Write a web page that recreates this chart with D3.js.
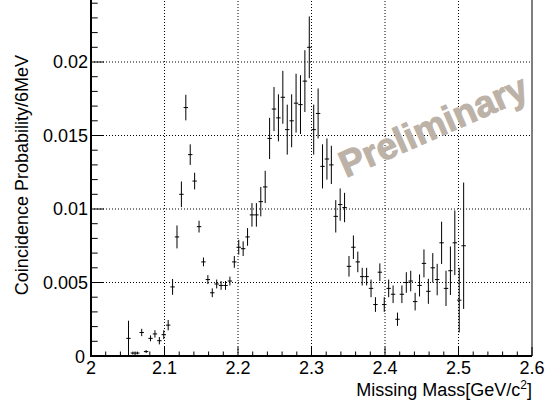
<!DOCTYPE html>
<html>
<head>
<meta charset="utf-8">
<script src="https://cdn.jsdelivr.net/npm/d3@7"></script>
<style>
  body { margin: 0; background: #fff; }
  svg text { font-family: "Liberation Sans", Arial, sans-serif; }
</style>
</head>
<body>
<svg id="chart" width="554" height="407"></svg>
<script>
// Bin centres (GeV/c^2), 6 MeV bins
const mass = [
  2.051, 2.057, 2.063, 2.069, 2.075, 2.081, 2.087, 2.093, 2.099, 2.105,
  2.111, 2.117, 2.123, 2.129, 2.135, 2.141, 2.147, 2.153, 2.159, 2.165,
  2.171, 2.177, 2.183, 2.189, 2.195, 2.201, 2.207, 2.213, 2.219, 2.225,
  2.231, 2.237, 2.243, 2.249, 2.255, 2.261, 2.267, 2.273, 2.279, 2.285,
  2.291, 2.297, 2.303, 2.309, 2.315, 2.321, 2.327, 2.333, 2.339, 2.345,
  2.351, 2.357, 2.363, 2.369, 2.375, 2.381, 2.387, 2.393, 2.399, 2.405,
  2.411, 2.417, 2.423, 2.429, 2.435, 2.441, 2.447, 2.453, 2.459, 2.465,
  2.471, 2.477, 2.483, 2.489, 2.495, 2.501, 2.507
];

// Coincidence probability per bin
const prob = [
  0.0012, 0.0002, 0.0002, 0.0016, 0.0003, 0.0012, 0.0015, 0.00104, 0.00145, 0.0021,
  0.0047, 0.0081, 0.0110, 0.0169, 0.0137, 0.0119, 0.0088, 0.0064, 0.0052, 0.0043,
  0.0049, 0.0048, 0.0048, 0.0051, 0.0064, 0.0074, 0.0073, 0.0081, 0.0096, 0.0096,
  0.0105, 0.0115, 0.0148, 0.0168, 0.0162, 0.0176, 0.0154, 0.0160, 0.0172, 0.0171,
  0.0187, 0.0210, 0.0154, 0.0165, 0.0129, 0.0134, 0.0130, 0.0095, 0.0103, 0.0101,
  0.0061, 0.0074, 0.0064, 0.0054, 0.0054, 0.0046, 0.0035, 0.0057, 0.0035, 0.0046,
  0.0042, 0.0025, 0.0042, 0.0050, 0.0051, 0.0037, 0.0048, 0.0063, 0.0044, 0.0060,
  0.0052, 0.0077, 0.0046, 0.0058, 0.0077, 0.0038, 0.0075
];

// Statistical errors
const err = [
  0.0012, 0.0001, 0.0001, 0.00025, 0.0001, 0.0002, 0.00025, 0.00025, 0.0003, 0.00035,
  0.00054, 0.00078, 0.00087, 0.00087, 0.0007, 0.00057, 0.0004, 0.0003, 0.0003, 0.0003,
  0.0003, 0.0003, 0.0003, 0.0003, 0.0004, 0.0005, 0.0005, 0.0006, 0.0008, 0.0008,
  0.001, 0.0011, 0.0014, 0.0015, 0.0016, 0.0018, 0.0017, 0.0018, 0.002, 0.002,
  0.0021, 0.0021, 0.0017, 0.0017, 0.0015, 0.0014, 0.0013, 0.0011, 0.0011, 0.001,
  0.0007, 0.0008, 0.0007, 0.0006, 0.0006, 0.0006, 0.0005, 0.0006, 0.0005, 0.0006,
  0.0006, 0.00045, 0.0006, 0.0007, 0.0007, 0.0006, 0.00075, 0.00095, 0.00085, 0.001,
  0.00107, 0.00144, 0.0012, 0.00165, 0.0022, 0.0022, 0.0043
];

const binWidth = 0.006;
const xTicks = [2, 2.1, 2.2, 2.3, 2.4, 2.5, 2.6];
const yTicks = [0, 0.005, 0.01, 0.015, 0.02];
const yTickLabels = ["0", "0.005", "0.01", "0.015", "0.02"];

const data = mass.map((m, i) => ({ m, v: prob[i], e: err[i] }));

const svg = d3.select("#chart");
const margin = { left: 91, right: 22, top: 0, bottom: 51 };
const width = 554, height = 407;

// Scales
const x = d3.scaleLinear()
  .domain([2, 2.6])
  .range([margin.left, width - margin.right]);

const y = d3.scaleLinear()
  .domain([0, 0.024218])
  .range([height - margin.bottom, margin.top]);

const x0 = x.range()[0], x1 = x.range()[1];
const y0 = y.range()[0], y1 = y.range()[1];

// Grid (dotted)
svg.append("g")
  .selectAll("line")
  .data(xTicks.slice(1, -1))
  .enter().append("line")
    .attr("x1", d => x(d)).attr("x2", d => x(d))
    .attr("y1", y0).attr("y2", y1)
    .attr("stroke", "#000")
    .attr("stroke-dasharray", "1,2");

svg.append("g")
  .selectAll("line")
  .data(yTicks.slice(1))
  .enter().append("line")
    .attr("x1", x0).attr("x2", x1)
    .attr("y1", d => y(d)).attr("y2", d => y(d))
    .attr("stroke", "#000")
    .attr("stroke-dasharray", "1,2");

// Preliminary watermark
svg.append("text")
  .attr("transform", "translate(346,178) rotate(-23.7)")
  .attr("font-size", 37)
  .attr("font-weight", "bold")
  .attr("fill", "#bdb2a7")
  .attr("stroke", "#bdb2a7")
  .attr("stroke-width", 1)
  .text("Preliminary");

// Error bars
const pts = svg.append("g").attr("stroke", "#000").attr("stroke-width", 1);

pts.selectAll("line.v")
  .data(data)
  .enter().append("line")
    .attr("class", "v")
    .attr("x1", d => x(d.m)).attr("x2", d => x(d.m))
    .attr("y1", d => y(Math.max(0, d.v - d.e)))
    .attr("y2", d => y(d.v + d.e));

pts.selectAll("line.h")
  .data(data)
  .enter().append("line")
    .attr("class", "h")
    .attr("x1", d => x(d.m - binWidth / 2)).attr("x2", d => x(d.m + binWidth / 2))
    .attr("y1", d => y(d.v)).attr("y2", d => y(d.v));

// Minor / major ticks, drawn inside the frame
const xMinor = d3.range(0, 31).map(i => 2 + i * 0.02);
const yMinor = d3.range(0, 25).map(i => i * 0.001);

svg.append("g")
  .selectAll("line")
  .data(xMinor)
  .enter().append("line")
    .attr("x1", d => x(d)).attr("x2", d => x(d))
    .attr("y1", y0)
    .attr("y2", (d, i) => y0 - (i % 5 === 0 ? 9 : 4.5))
    .attr("stroke", "#000");

svg.append("g")
  .selectAll("line")
  .data(yMinor)
  .enter().append("line")
    .attr("x1", x0)
    .attr("x2", (d, i) => x0 + (i % 5 === 0 ? 13 : 6.7))
    .attr("y1", d => y(d)).attr("y2", d => y(d))
    .attr("stroke", "#000");

// Frame: left and bottom axes, right edge
svg.append("line")
  .attr("x1", x0).attr("x2", x0).attr("y1", y1).attr("y2", y0 + 1)
  .attr("stroke", "#000").attr("stroke-width", 2);
svg.append("line")
  .attr("x1", x0 - 1).attr("x2", x1).attr("y1", y0).attr("y2", y0)
  .attr("stroke", "#000").attr("stroke-width", 2);
svg.append("line")
  .attr("x1", x1).attr("x2", x1).attr("y1", y1).attr("y2", y0)
  .attr("stroke", "#000").attr("stroke-width", 1);

// Tick labels
svg.append("g")
  .selectAll("text")
  .data(xTicks)
  .enter().append("text")
    .attr("x", d => x(d))
    .attr("y", y0 + 18)
    .attr("text-anchor", "middle")
    .attr("font-size", 18)
    .text(d => d);

svg.append("g")
  .selectAll("text")
  .data(yTicks)
  .enter().append("text")
    .attr("x", d => d === 0 ? x0 - 6 : x0 - 3)
    .attr("y", d => y(d) + (d === 0 ? 7 : 6))
    .attr("text-anchor", "end")
    .attr("font-size", 18)
    .text((d, i) => yTickLabels[i]);

// Axis titles
const xt = svg.append("text")
  .attr("x", x1)
  .attr("y", 396)
  .attr("text-anchor", "end")
  .attr("font-size", 18);
xt.append("tspan").text("Missing Mass[GeV/c");
xt.append("tspan").attr("dy", -7).attr("font-size", 12).text("2");
xt.append("tspan").attr("dy", 7).text("]");

svg.append("text")
  .attr("transform", "translate(28,55) rotate(-90)")
  .attr("text-anchor", "end")
  .attr("font-size", 18)
  .text("Coincidence Probability/6MeV");
</script>
</body>
</html>
